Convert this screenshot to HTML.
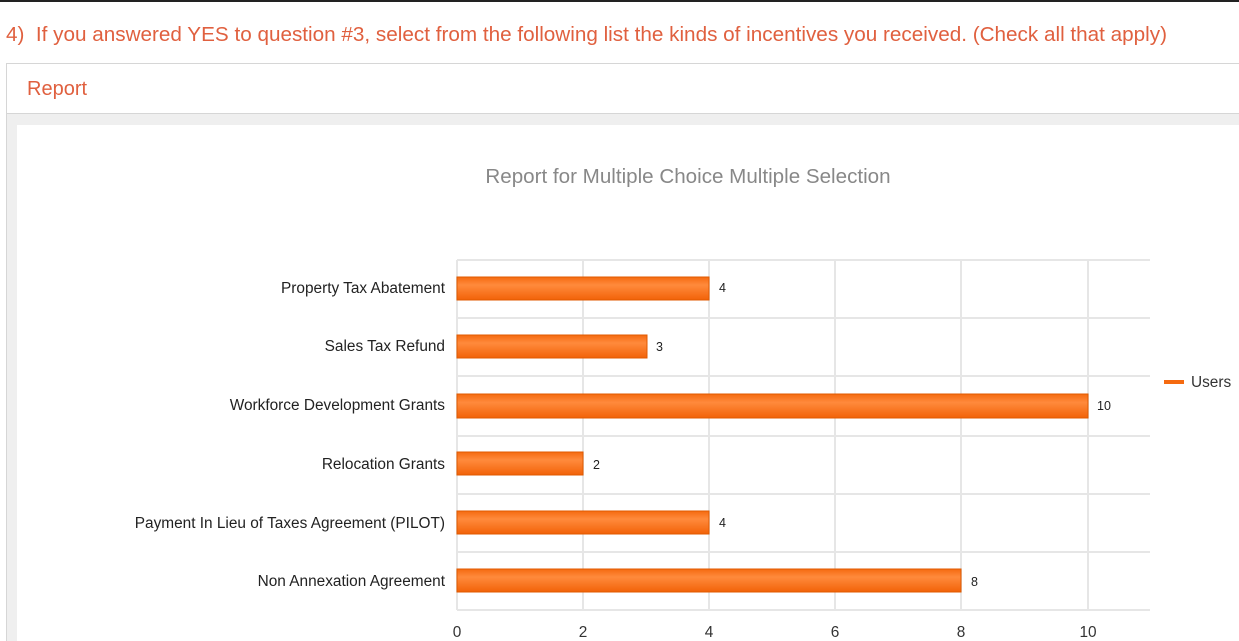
<!DOCTYPE html>
<html><head><meta charset="utf-8"><style>
html,body{margin:0;width:1239px;height:641px;overflow:hidden;background:#fff;font-family:"Liberation Sans",Arial,sans-serif;position:relative}
.top{position:absolute;left:0;top:0;width:1239px;height:2px;background:#222}
.q{position:absolute;left:6px;top:23px;font-size:20.7px;color:#e0603f;white-space:nowrap}
.panel{position:absolute;left:6px;top:63px;width:1240px;height:600px;border-left:1px solid #d6d6d6;border-top:1px solid #d6d6d6;background:#efefef}
.hdr{position:absolute;left:0;top:0;right:0;height:49px;background:#fff;border-bottom:1px solid #d6d6d6}
.hdr span{position:absolute;left:20px;top:14px;font-size:20px;color:#e0603f}
.inner{position:absolute;left:17px;top:125px;width:1230px;height:540px;background:#fff}
svg{position:absolute;left:0;top:0}
</style></head><body>
<div class="top"></div>
<div class="q">4)&nbsp; If you answered YES to question #3, select from the following list the kinds of incentives you received. (Check all that apply)</div>
<div class="panel"><div class="hdr"><span>Report</span></div></div>
<div class="inner"></div>
<svg width="1239" height="641" font-family="Liberation Sans, Arial, sans-serif">
<defs><linearGradient id="g" x1="0" y1="0" x2="0" y2="1"><stop offset="0" stop-color="#f56a10"/><stop offset="0.35" stop-color="#ff8a3c"/><stop offset="1" stop-color="#f26208"/></linearGradient></defs>
<text x="688" y="183" text-anchor="middle" font-size="20.6" fill="#888">Report for Multiple Choice Multiple Selection</text>
<g stroke="#e6e6e6" stroke-width="2">
<line x1="457" y1="260" x2="1150" y2="260"/><line x1="457" y1="318" x2="1150" y2="318"/><line x1="457" y1="376" x2="1150" y2="376"/><line x1="457" y1="436" x2="1150" y2="436"/><line x1="457" y1="494" x2="1150" y2="494"/><line x1="457" y1="552" x2="1150" y2="552"/><line x1="457" y1="610" x2="1150" y2="610"/>
<line x1="457" y1="260" x2="457" y2="610"/><line x1="583" y1="260" x2="583" y2="610"/><line x1="709" y1="260" x2="709" y2="610"/><line x1="835" y1="260" x2="835" y2="610"/><line x1="961" y1="260" x2="961" y2="610"/><line x1="1088" y1="260" x2="1088" y2="610"/>
</g>
<g fill="url(#g)" stroke="#e05a00" stroke-width="1">
<rect x="457" y="277" width="252" height="23"/>
<rect x="457" y="335" width="190" height="23"/>
<rect x="457" y="394" width="631" height="24"/>
<rect x="457" y="452" width="126" height="23"/>
<rect x="457" y="511" width="252" height="23"/>
<rect x="457" y="569" width="504" height="23"/>
</g>
<g font-size="12.5" fill="#222">
<text x="719" y="292">4</text><text x="656" y="351">3</text><text x="1097" y="410">10</text><text x="593" y="469">2</text><text x="719" y="527">4</text><text x="971" y="586">8</text>
</g>
<g font-size="15.4" fill="#222" text-anchor="end">
<text x="445" y="293">Property Tax Abatement</text>
<text x="445" y="351">Sales Tax Refund</text>
<text x="445" y="410">Workforce Development Grants</text>
<text x="445" y="469">Relocation Grants</text>
<text x="445" y="528">Payment In Lieu of Taxes Agreement (PILOT)</text>
<text x="445" y="586">Non Annexation Agreement</text>
</g>
<g font-size="15.4" fill="#333" text-anchor="middle">
<text x="457" y="637">0</text><text x="583" y="637">2</text><text x="709" y="637">4</text><text x="835" y="637">6</text><text x="961" y="637">8</text><text x="1088" y="637">10</text>
</g>
<rect x="1164" y="380" width="20" height="4" fill="#f56a10"/>
<text x="1191" y="387" font-size="15.4" fill="#333">Users</text>
</svg>
</body></html>
